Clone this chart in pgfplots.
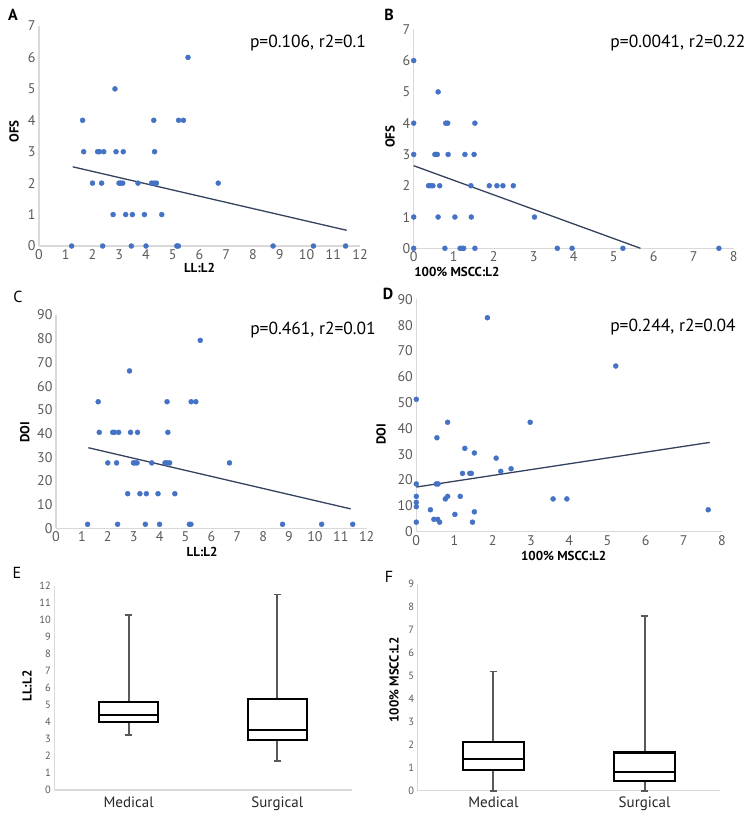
\documentclass[border=0pt]{standalone}
\usepackage{pgfplots}
\pgfplotsset{compat=1.18}
\usepgfplotslibrary{statistics}
\usepackage{pgfplotstable}
\usepackage{fontspec}
\setmainfont{PT Sans}
\definecolor{dotblue}{HTML}{4472C4}
\definecolor{trend}{HTML}{34425E}
\definecolor{axgray}{HTML}{D9D9D9}
\definecolor{tickgray}{HTML}{595959}
\pgfplotsset{
  panel/.style={
    scale only axis,
    axis x line=bottom, axis y line=left,
    axis line style={-, draw=axgray, line width=1.3pt},
    major tick length=0pt,
    tick label style={font=\fontsize{14}{16}\selectfont, text=tickgray},
    /pgf/number format/assume math mode=true,
    label style={font=\fontsize{13}{15}\selectfont\bfseries},
    clip=false,
  },
  dots/.style={only marks, mark=*, mark size=2.5pt, mark options={draw=dotblue, fill=dotblue}},
  trendline/.style={no marks, draw=trend, line width=1.3pt},
  boxpanel/.style={
    panel,
    xmin=-0.5, xmax=1.5, xtick={0,1}, xticklabels={Medical,Surgical},
    yticklabel style={font=\fontsize{10.5}{12}\selectfont, text=tickgray},
    xticklabel style={font=\fontsize{15}{17}\selectfont, text=black!85, yshift=-3pt},
    boxplot/draw direction=y,
    boxplot/every whisker/.style={draw=tickgray, line width=1.8pt},
    boxplot/every box/.style={draw=black, line width=2.2pt},
    boxplot/every median/.style={draw=black, line width=2.2pt},
  },
}
% LL:L2 vs OFS and DOI
\pgfplotstableread{
x ofs doi
1.22 0 1.7
1.63 4 53.4
1.67 3 40.5
2.00 2 27.6
2.19 3 40.5
2.26 3 40.5
2.34 2 27.6
2.38 0 1.7
2.42 3 40.5
2.77 1 14.6
2.84 5 66.4
2.88 3 40.5
2.99 2 27.6
3.05 2 27.6
3.13 2 27.6
3.15 3 40.5
3.24 1 14.6
3.45 0 1.7
3.49 1 14.6
3.70 2 27.6
3.94 1 14.6
4.00 0 1.7
4.21 2 27.6
4.29 4 53.4
4.30 2 27.6
4.32 3 40.5
4.39 2 27.6
4.59 1 14.6
5.15 0 1.7
5.21 0 1.7
5.22 4 53.4
5.40 4 53.4
5.57 6 79.3
6.70 2 27.6
8.75 0 1.7
10.26 0 1.7
11.46 0 1.7
}\tabLL
% 100% MSCC:L2 vs OFS
\pgfplotstableread{
x ofs
0 6
0 4
0 3
0 1
0 0
0.37 2
0.43 2
0.48 2
0.53 3
0.56 3
0.59 3
0.61 5
0.61 1
0.65 2
0.78 0
0.80 4
0.85 4
0.86 3
1.03 1
1.16 0
1.21 0
1.25 0
1.28 3
1.43 2
1.44 1
1.51 3
1.53 4
1.53 0
1.89 2
2.08 2
2.23 2
2.49 2
3.02 1
3.59 0
3.96 0
5.23 0
7.63 0
}\tabB
% 100% MSCC:L2 vs DOI
\pgfplotstableread{
x doi
0 51.3
0 18.5
0 13.7
0 11.4
0 9.7
0 3.7
0.37 8.5
0.46 4.8
0.54 36.4
0.52 18.5
0.57 18.5
0.56 4.8
0.61 3.7
0.76 12.7
0.82 13.7
0.82 42.4
1.01 6.7
1.15 13.7
1.21 22.6
1.27 32.3
1.40 22.6
1.44 22.6
1.47 3.7
1.52 30.5
1.52 7.7
1.86 82.9
2.09 28.5
2.21 23.4
2.48 24.4
2.98 42.4
3.58 12.7
3.94 12.7
5.22 64.2
7.64 8.5
}\tabD
\begin{document}
\begin{tikzpicture}
\useasboundingbox (0,0) rectangle (754pt,-822pt);
% ---------- A ----------
\begin{axis}[panel, at={(39pt,-246pt)}, anchor=south west, width=321pt, height=220pt,
  xmin=0, xmax=12, ymin=0, ymax=7, xtick={0,...,12}, ytick={0,...,7},
  xlabel={LL:L2}, ylabel={OFS},
  xlabel style={at={(axis description cs:0.5,-0.1)}, anchor=center},
  ylabel style={at={(axis description cs:-0.078,0.52)}, anchor=center}]
\addplot[dots] table[x=x, y=ofs] {\tabLL};
\addplot[trendline] coordinates {(1.26,2.52) (11.5,0.50)};
\end{axis}
% ---------- B ----------
\begin{axis}[panel, at={(413.7pt,-248.3pt)}, anchor=south west, width=320pt, height=219pt,
  xmin=0, xmax=8, ymin=0, ymax=7, xtick={0,...,8}, ytick={0,...,7},
  xlabel={100\% MSCC:L2}, ylabel={OFS},
  xlabel style={at={(axis description cs:0.135,-0.11)}, anchor=center},
  ylabel style={at={(axis description cs:-0.074,0.51)}, anchor=center}]
\addplot[dots] table[x=x, y=ofs] {\tabB};
\addplot[trendline] coordinates {(0,2.64) (5.67,0)};
\end{axis}
% ---------- C ----------
\begin{axis}[panel, at={(56pt,-528.3pt)}, anchor=south west, width=310.7pt, height=213.3pt,
  xmin=0, xmax=12, ymin=0, ymax=90, xtick={0,...,12}, ytick={0,10,...,90},
  xlabel={LL:L2}, ylabel={DOI},
  xlabel style={at={(axis description cs:0.47,-0.111)}, anchor=center},
  ylabel style={at={(axis description cs:-0.10,0.45)}, anchor=center}]
\addplot[dots] table[x=x, y=doi] {\tabLL};
\addplot[trendline] coordinates {(1.25,34.0) (11.38,8.2)};
\end{axis}
% ---------- D ----------
\begin{axis}[panel, at={(416.3pt,-531.7pt)}, anchor=south west, width=305.7pt, height=232.3pt,
  xmin=0, xmax=8, ymin=0, ymax=90, xtick={0,...,8}, ytick={0,10,...,90},
  xlabel={100\% MSCC:L2}, ylabel={DOI},
  xlabel style={at={(axis description cs:0.482,-0.105)}, anchor=center},
  ylabel style={at={(axis description cs:-0.115,0.42)}, anchor=center}]
\addplot[dots] table[x=x, y=doi] {\tabD};
\addplot[trendline] coordinates {(0,17.3) (7.68,34.6)};
\end{axis}
% ---------- E ----------
\begin{axis}[boxpanel, at={(54.3pt,-790pt)}, anchor=south west, width=297.4pt, height=204pt,
  ymin=0, ymax=12, ytick={0,...,12},
  ylabel={LL:L2},
  ylabel style={at={(axis description cs:-0.092,0.51)}, anchor=center}]
\addplot[black, boxplot prepared={draw position=0, median=4.43, upper quartile=5.2,
  lower quartile=4.02, upper whisker=10.3, lower whisker=3.24, box extend=0.4, whisker extend=0.05}]
  coordinates {};
\addplot[black, boxplot prepared={draw position=1, median=3.51, upper quartile=5.37,
  lower quartile=2.92, upper whisker=11.5, lower whisker=1.73, box extend=0.4, whisker extend=0.05}]
  coordinates {};
\end{axis}
% ---------- F ----------
\begin{axis}[boxpanel, at={(417.7pt,-790.7pt)}, anchor=south west, width=302.6pt, height=206.4pt,
  ymin=0, ymax=9, ytick={0,...,9},
  ylabel={100\% MSCC:L2},
  ylabel style={at={(axis description cs:-0.078,0.536)}, anchor=center}]
\addplot[black, boxplot prepared={draw position=0, median=1.37, upper quartile=2.14,
  lower quartile=0.89, upper whisker=5.2, lower whisker=0, box extend=0.4, whisker extend=0.05}]
  coordinates {};
\addplot[black, boxplot prepared={draw position=1, median=0.83, upper quartile=1.67,
  lower quartile=0.41, upper whisker=7.63, lower whisker=0, box extend=0.4, whisker extend=0.05}]
  coordinates {};
\end{axis}
% ---------- annotations ----------
\begin{scope}[every node/.style={font=\fontsize{17.5}{19}\selectfont}]
\node at (308pt,-43pt) {p=0.106, r2=0.1};
\node at (678pt,-43pt) {p=0.0041, r2=0.22};
\node at (313pt,-330pt) {p=0.461, r2=0.01};
\node at (673pt,-327pt) {p=0.244, r2=0.04};
\end{scope}
\begin{scope}[every node/.style={font=\fontsize{16}{18}\selectfont}]
\node at (13pt,-15pt) {\bfseries A};
\node at (389pt,-15pt) {\bfseries B};
\node at (18pt,-297pt) {C};
\node at (388pt,-294pt) {\bfseries D};
\node at (17pt,-573pt) {E};
\node at (389pt,-577pt) {F};
\end{scope}
\end{tikzpicture}
\end{document}
